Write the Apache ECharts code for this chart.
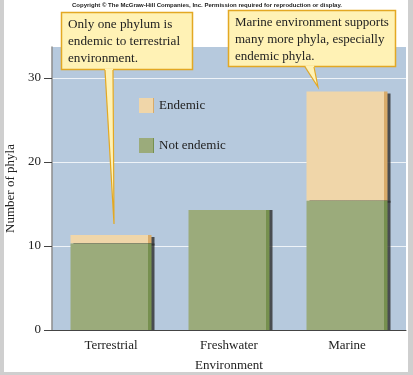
<!DOCTYPE html>
<html>
<head>
<meta charset="utf-8">
<script src="https://cdn.jsdelivr.net/npm/echarts@6/dist/echarts.min.js"></script>
<style>
html,body{margin:0;padding:0;background:#fff;}
#c{width:413px;height:375px;}
</style>
</head>
<body>
<div id="c"></div>
<script>
var categories = ['Terrestrial', 'Freshwater', 'Marine'];
var notEndemic = [10.3, 14.3, 15.4];
var endemic = [1.0, 0, 13.0];
var yTickLabels = [0, 10, 20, 30];
var yMax = 33.7;

var serif = '"Liberation Serif", "DejaVu Serif", serif';

function barGrad(main, dark) {
  return new echarts.graphic.LinearGradient(0, 0, 1, 0, [
    {offset: 0, color: main}, {offset: 0.955, color: main},
    {offset: 0.955, color: dark}, {offset: 1, color: dark}
  ]);
}

var chart = echarts.init(document.getElementById('c'), null, {renderer: 'canvas'});

var callFill = '#fff2b5', callStroke = '#e3a823';

chart.setOption({
  backgroundColor: '#ffffff',
  animation: false,
  grid: {left: 52, right: 7, top: 47, bottom: 45, outerBoundsMode: 'none', containLabel: false, show: true, backgroundColor: '#b6c9dd', borderWidth: 0},
  legend: {
    data: ['Endemic', 'Not endemic'],
    orient: 'vertical', left: 134, top: 93,
    itemWidth: 15, itemHeight: 15, itemGap: 25,
    icon: 'rect',
    textStyle: {fontFamily: serif, fontSize: 13, color: '#222'}
  },
  xAxis: {
    type: 'category', data: categories,
    name: 'Environment', nameLocation: 'middle', nameGap: 29,
    nameTextStyle: {fontFamily: serif, fontSize: 13, color: '#222'},
    axisLine: {lineStyle: {color: '#444', width: 1}},
    axisTick: {show: false},
    axisLabel: {fontFamily: serif, fontSize: 13, color: '#222', margin: 9}
  },
  yAxis: {
    type: 'value', min: 0, max: yMax, interval: 5,
    name: 'Number of phyla', nameLocation: 'middle', nameGap: 28,
    nameTextStyle: {fontFamily: serif, fontSize: 13, color: '#222'},
    axisLine: {show: true, lineStyle: {color: '#8c8c8c', width: 1.5}},
    axisTick: {show: true, length: 8, customValues: yTickLabels, lineStyle: {color: '#444'}},
    axisLabel: {customValues: yTickLabels, fontFamily: serif, fontSize: 13, color: '#222', margin: 11},
    splitLine: {show: true, lineStyle: {color: '#eef3f8', width: 1.2}}
  },
  series: [
    {
      name: 'Not endemic', type: 'bar', stack: 's', data: notEndemic, barWidth: 81, z: 3,
      itemStyle: {color: barGrad('#9bab7b', '#76904f'), shadowColor: 'rgba(45,45,45,0.8)', shadowOffsetX: 3, shadowOffsetY: 0, shadowBlur: 0}
    },
    {
      name: 'Endemic', type: 'bar', stack: 's', data: endemic, barWidth: 81, z: 2,
      itemStyle: {color: barGrad('#f0d6a9', '#d8ab6a'), shadowColor: 'rgba(45,45,45,0.8)', shadowOffsetX: 3, shadowOffsetY: 2, shadowBlur: 0}
    }
  ],
  graphic: [
    {type: 'rect', shape: {x: 0, y: 0, width: 4, height: 375}, style: {fill: '#cfcfcf'}, z: 100},
    {type: 'rect', shape: {x: 408, y: 0, width: 5, height: 375}, style: {fill: '#cfcfcf'}, z: 100},
    {type: 'rect', shape: {x: 0, y: 372, width: 413, height: 3}, style: {fill: '#cfcfcf'}, z: 100},
    {type: 'text', x: 207, y: 5, style: {text: 'Copyright \u00a9 The McGraw-Hill Companies, Inc. Permission required for reproduction or display.', fontFamily: '"Liberation Sans", Arial, sans-serif', fontWeight: 'bold', fontSize: 6, fill: '#222', align: 'center', verticalAlign: 'middle'}, z: 100},
    // callout 1
    {type: 'rect', shape: {x: 61.5, y: 12.5, width: 131, height: 57}, style: {fill: callFill, stroke: callStroke, lineWidth: 1.5}, z: 100},
    {type: 'polygon', shape: {points: [[105, 68.5], [114, 224], [113, 68.5]]}, style: {fill: callFill, stroke: null}, z: 101},
    {type: 'polyline', shape: {points: [[105, 70], [114, 224], [113, 70]]}, style: {fill: null, stroke: callStroke, lineWidth: 1.2}, z: 101},
    {type: 'text', x: 68, y: 16.5, style: {text: 'Only one phylum is\nendemic to terrestrial\nenvironment.', fontFamily: serif, fontSize: 13.2, lineHeight: 17, fill: '#222', verticalAlign: 'top'}, z: 102},
    // callout 2
    {type: 'rect', shape: {x: 228.5, y: 10.5, width: 167, height: 56}, style: {fill: callFill, stroke: callStroke, lineWidth: 1.5}, z: 100},
    {type: 'polygon', shape: {points: [[305, 65.5], [318, 87], [314, 65.5]]}, style: {fill: callFill, stroke: null}, z: 101},
    {type: 'polyline', shape: {points: [[305, 67], [318, 87], [314, 67]]}, style: {fill: null, stroke: callStroke, lineWidth: 1.2}, z: 101},
    {type: 'text', x: 235, y: 14.5, style: {text: 'Marine environment supports\nmany more phyla, especially\nendemic phyla.', fontFamily: serif, fontSize: 13, lineHeight: 17, fill: '#222', verticalAlign: 'top'}, z: 102}
  ]
});
</script>
</body>
</html>
